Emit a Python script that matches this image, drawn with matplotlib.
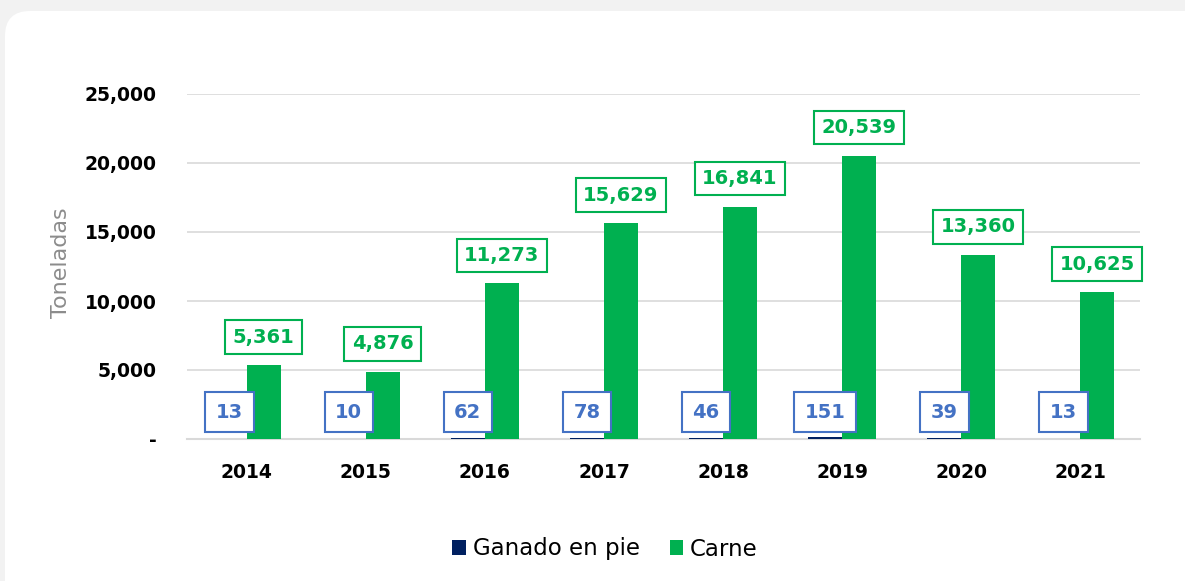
import numpy as np
import matplotlib.pyplot as plt
from matplotlib.patches import FancyBboxPatch
from matplotlib.ticker import FuncFormatter

# data
years = ['2014', '2015', '2016', '2017', '2018', '2019', '2020', '2021']
ganado = [13, 10, 62, 78, 46, 151, 39, 13]
carne = [5361, 4876, 11273, 15629, 16841, 20539, 13360, 10625]

navy = '#002060'
green = '#00B050'
blue_lbl = '#4472C4'

plt.rcParams['font.family'] = ['DejaVu Sans']

fig = plt.figure(figsize=(11.85, 5.81), dpi=100)
fig.patch.set_facecolor('#f2f2f2')

# white rounded card behind everything
card = FancyBboxPatch((5 / 1185, -0.05), 1.1, 1.05 - 11 / 581,
                      boxstyle='round,pad=0,rounding_size=%f' % (25 / 1185),
                      transform=fig.transFigure, facecolor='white',
                      edgecolor='none', zorder=-10, mutation_aspect=1185 / 581)
fig.patches.append(card)

ax = fig.add_axes([187 / 1185, 142 / 581, (1140 - 187) / 1185, (439 - 94) / 581])
ax.set_facecolor('none')
ax.set_zorder(1)

x = np.arange(len(years))
w = 0.285
b1 = ax.bar(x - w / 2, ganado, w, color=navy, label='Ganado en pie', zorder=3)
b2 = ax.bar(x + w / 2, carne, w, color=green, label='Carne', zorder=3)

ax.set_xlim(-0.5, len(years) - 0.5)
ax.set_ylim(0, 25000)
ax.set_yticks(range(0, 25001, 5000))
ax.yaxis.set_major_formatter(FuncFormatter(lambda v, p: '-' if v == 0 else f'{int(v):,}'))
ax.set_xticks(x)
ax.set_xticklabels(years)
ax.tick_params(axis='both', length=0, labelsize=13.5)
ax.tick_params(axis='y', pad=22)
ax.tick_params(axis='x', pad=17)
for lab in ax.get_xticklabels() + ax.get_yticklabels():
    lab.set_fontweight('bold')

ax.grid(axis='y', color='#d9d9d9', linewidth=1.2, zorder=0)
for s in ['top', 'right', 'left']:
    ax.spines[s].set_visible(False)
ax.spines['bottom'].set_color('#d9d9d9')
ax.spines['bottom'].set_linewidth(1.5)

ax.set_ylabel('Toneladas', fontsize=16, color='#8c8c8c')
ax.yaxis.set_label_coords(-0.122, 0.51)

# data labels
for i in range(len(years)):
    ax.annotate(f'{carne[i]:,}', (x[i] + w / 2, carne[i]), xytext=(0, 28),
                textcoords='offset pixels', ha='center', va='center',
                fontsize=14, fontweight='bold', color=green, zorder=5,
                bbox=dict(boxstyle='square,pad=0.38', facecolor='white',
                          edgecolor=green, linewidth=1.5))
    ax.annotate(f'{ganado[i]:,}', (x[i] - w / 2, 0), xytext=(0, 27),
                textcoords='offset pixels', ha='center', va='center',
                fontsize=14, fontweight='bold', color=blue_lbl, zorder=5,
                bbox=dict(boxstyle='square,pad=0.55', facecolor='white',
                          edgecolor=blue_lbl, linewidth=1.5))

fig.legend(handles=[b1, b2], loc='center', bbox_to_anchor=(605 / 1185, 1 - 549 / 581),
           ncol=2, frameon=False, fontsize=16.5, handlelength=0.6, handleheight=0.6,
           handletextpad=0.3, columnspacing=1.3)

fig.savefig('out.png', dpi=100, facecolor=fig.get_facecolor())
